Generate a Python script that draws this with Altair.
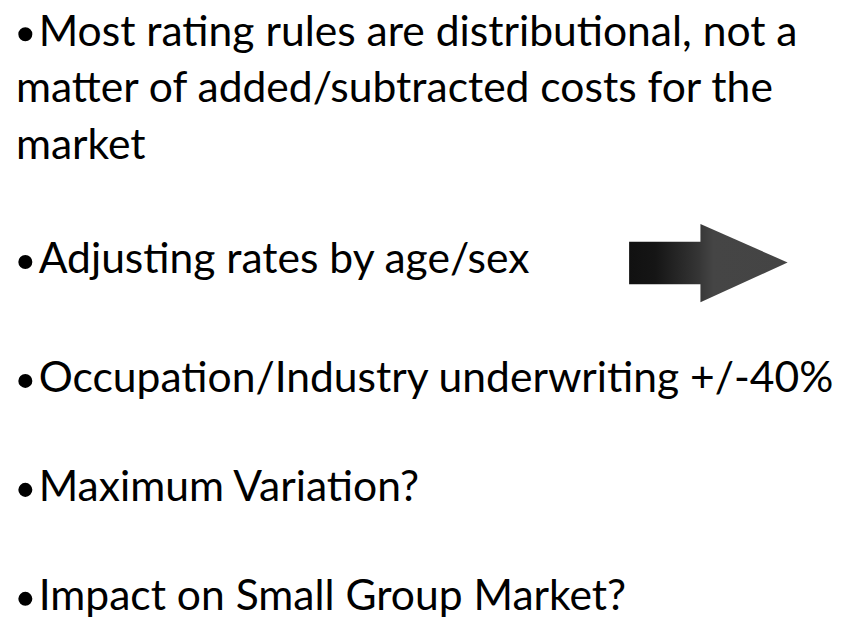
import altair as alt
import pandas as pd

# Text lines of the slide (bullet flag, text, baseline y in page pixels)
line_texts = [
    "Most rating rules are distributional, not a",
    "matter of added/subtracted costs for the",
    "market",
    "Adjusting rates by age/sex",
    "Occupation/Industry underwriting +/-40%",
    "Maximum Variation?",
    "Impact on Small Group Market?",
]
line_bullet = [True, False, False, True, True, True, True]
line_baseline = [43, 100, 157, 273, 393, 503, 613]

# Arrow geometry (page pixels)
shaft_x = [635, 709]
shaft_y = [241, 284]
head_x = [707, 795]
head_top = [223, 262]
head_bottom = [302, 262]

FONT = "Lato"
FS = 43
BULLET_X = 25.5
BULLET_DY = 11.5
TEXT_X = 39
CONT_X = 16

rows = []
bullets = []
for t, b, y in zip(line_texts, line_bullet, line_baseline):
    if b:
        bullets.append({"x": BULLET_X, "y": y - BULLET_DY})
        rows.append({"x": TEXT_X, "y": y, "t": t})
    else:
        rows.append({"x": CONT_X, "y": y, "t": t})
text_df = pd.DataFrame(rows)
bullet_df = pd.DataFrame(bullets)

TOP_PAD = 8
xs = alt.Scale(domain=[8, 860])
ys = alt.Scale(domain=[8 + TOP_PAD, 628], reverse=True)

text = alt.Chart(text_df).mark_text(
    font=FONT, fontSize=FS, align="left", baseline="alphabetic", color="#000000"
).encode(
    x=alt.X("x:Q", scale=xs, axis=None),
    y=alt.Y("y:Q", scale=ys, axis=None),
    text="t:N",
)

bullet = alt.Chart(bullet_df).mark_point(
    shape="circle", filled=True, size=200, color="#000000", opacity=1
).encode(
    x=alt.X("x:Q", scale=xs, axis=None),
    y=alt.Y("y:Q", scale=ys, axis=None),
)

shaft_df = pd.DataFrame({"x": [shaft_x[0]], "x2": [shaft_x[1]], "y": [shaft_y[0]], "y2": [shaft_y[1]]})
shaft = alt.Chart(shaft_df).mark_rect(
    color=alt.Gradient(
        gradient="linear",
        stops=[
            alt.GradientStop(color="#111111", offset=0),
            alt.GradientStop(color="#151515", offset=0.35),
            alt.GradientStop(color="#383838", offset=1),
        ],
        x1=0, x2=1, y1=0, y2=0,
    )
).encode(
    x=alt.X("x:Q", scale=xs, axis=None), x2="x2:Q",
    y=alt.Y("y:Q", scale=ys, axis=None), y2="y2:Q",
)

head_df = pd.DataFrame({"x": head_x, "y": head_top, "y2": head_bottom})
head = alt.Chart(head_df).mark_area(
    color=alt.Gradient(
        gradient="linear",
        stops=[
            alt.GradientStop(color="#383838", offset=0),
            alt.GradientStop(color="#454545", offset=0.15),
            alt.GradientStop(color="#444444", offset=1),
        ],
        x1=0, x2=1, y1=0, y2=0,
    )
).encode(
    x=alt.X("x:Q", scale=xs, axis=None),
    y=alt.Y("y:Q", scale=ys, axis=None), y2="y2:Q",
)

chart = alt.layer(shaft, head, bullet, text).properties(
    width=852, height=620 - TOP_PAD,
    padding={"left": 0, "top": TOP_PAD, "right": 0, "bottom": 0},
    autosize=alt.AutoSizeParams(type="none"),
).configure_view(stroke=None)

chart.save("out.html", embed_options={"renderer": "svg", "actions": False})
